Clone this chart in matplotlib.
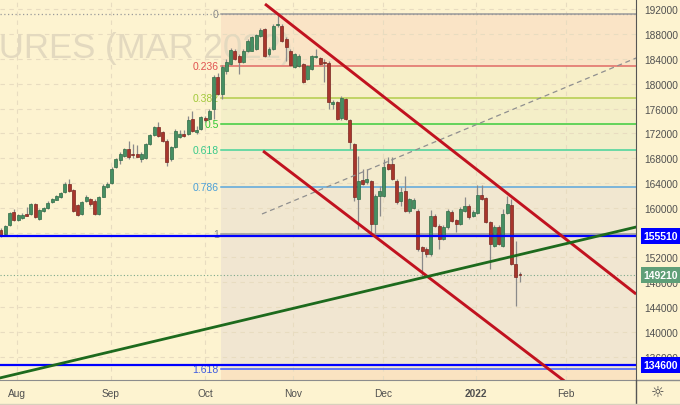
import matplotlib.pyplot as plt
import matplotlib.transforms as mtransforms
from matplotlib.lines import Line2D

plt.rcParams['font.family'] = ['Liberation Sans', 'DejaVu Sans']

# daily bars, RTS futures (Mar 2022), late Jul 2021 .. Jan 2022
opens = [156420, 155770, 157230, 159370, 158030, 158310, 159000, 159000, 160610, 158190,
         159530, 159920, 160980, 161310, 161690, 162500, 163790, 162870, 160450, 159000,
         161150, 161420, 161150, 159000, 161820, 163400, 164000, 166580, 167710, 168350,
         169480, 168680, 168680, 167870, 168030, 170290, 171740, 172980, 172180, 170820,
         167870, 169760, 171370, 171900, 171900, 174320, 172270, 172710, 174440, 174320,
         175940, 181050, 178360, 182060, 183190, 185340, 184530, 183470, 185340, 185340,
         185610, 187760, 188840, 184810, 185610, 189500, 189370, 187230, 185340, 182660,
         182920, 183190, 180770, 182390, 184320, 184110, 183520, 183350, 176740, 177020,
         174440, 177550, 174210, 170290, 161420, 164480, 164110, 164370, 157390, 161950,
         161950, 167060, 167060, 164370, 161150, 162760, 159440, 159970, 159530, 153630,
         153350, 152550, 158730, 157110, 154970, 156850, 159370, 158030, 157390, 159530,
         160340, 158730, 159160, 162060, 161530, 157710, 153840, 156900, 153840, 159160,
         160450, 150930, 149370]
highs = [156740, 157230, 159320, 159810, 159000, 159160, 160180, 160770, 160850, 159810,
         160130, 161100, 161580, 162140, 162550, 164160, 164650, 163030, 160610, 161100,
         162060, 161580, 161340, 161900, 163760, 164160, 166580, 168110, 168920, 169720,
         170770, 170290, 170130, 169000, 170450, 171900, 173190, 173890, 172390, 171100,
         169970, 172710, 172600, 172600, 174760, 175660, 173190, 174810, 174810, 175940,
         181420, 181740, 183030, 184000, 185770, 185610, 184810, 185610, 187230, 187710,
         188110, 188920, 189080, 185940, 189650, 191260, 189650, 187550, 185610, 184970,
         184810, 183430, 183110, 184640, 185610, 184320, 184000, 183680, 177390, 177230,
         178030, 177710, 174400, 170450, 168400, 166260, 166260, 164560, 162230, 163560,
         167870, 168150, 168190, 164650, 163350, 165180, 161580, 161500, 159810, 153840,
         153600, 159650, 159000, 157390, 157150, 159810, 159650, 158270, 160050, 161740,
         160610, 159650, 163680, 163680, 161740, 157870, 157230, 157150, 159810, 161900,
         161420, 154650, 149690]
lows = [155290, 155610, 157060, 157920, 157920, 158190, 158680, 158840, 158350, 158030,
        159400, 159810, 160850, 161180, 161580, 162390, 162550, 159320, 158680, 158840,
        160940, 160290, 158840, 158840, 161690, 163270, 163840, 166420, 167060, 168190,
        167870, 167980, 168190, 167390, 167870, 170130, 171580, 171420, 170690, 166790,
        167600, 169640, 171180, 171370, 171740, 172230, 171900, 172550, 173840, 174160,
        174320, 178190, 177550, 181580, 183030, 183840, 181580, 183350, 185130, 185210,
        185450, 187550, 184320, 184530, 185450, 189130, 186740, 183680, 182870, 182550,
        182710, 180130, 180610, 182220, 184160, 183030, 180290, 175940, 175940, 174160,
        174240, 174160, 169480, 161150, 156580, 163680, 163840, 156100, 155770, 158730,
        161740, 166100, 164480, 160690, 160340, 159320, 159240, 159810, 153030, 149000,
        152060, 152220, 156900, 153350, 154810, 156660, 157710, 156100, 157230, 159320,
        158270, 158520, 159000, 161260, 157470, 150130, 153680, 154000, 153680, 159000,
        150770, 144210, 147980]
closes = [155610, 157020, 159110, 158080, 158840, 158840, 158730, 160560, 158470, 159650,
          159970, 160820, 161420, 161850, 162390, 163890, 162710, 159530, 158890, 160890,
          161690, 160610, 159000, 161690, 163560, 163840, 166260, 167870, 168680, 169480,
          168190, 168520, 168270, 168680, 170290, 171740, 172980, 171580, 170820, 167340,
          169760, 172440, 171900, 171530, 174160, 172440, 172600, 174600, 174160, 175660,
          181100, 178360, 182710, 183520, 185500, 184000, 183470, 185340, 186950, 187500,
          187870, 188680, 184530, 185610, 189370, 189650, 186950, 185940, 183030, 184810,
          184530, 180340, 182920, 184440, 184480, 183190, 183430, 177020, 177020, 174320,
          177660, 174320, 170560, 161690, 164370, 163840, 164650, 157390, 161950, 162760,
          166530, 166260, 164650, 160890, 162500, 159530, 161420, 161260, 153350, 153080,
          152550, 158730, 157110, 154970, 156900, 159530, 157920, 157390, 159810, 160340,
          158470, 159370, 162060, 161420, 157660, 154160, 156900, 154160, 159000, 160610,
          150930, 148890, 149210]

month_pos = [3.76, 25.86, 47.95, 68.6, 89.8, 111.7, 132.8]
month_lbl = ['Aug', 'Sep', 'Oct', 'Nov', 'Dec', '2022', 'Feb']

fib_hi = 191260
fib_lo = 155850
fib_start = 51.7
fib_levels = [0, 0.236, 0.382, 0.5, 0.618, 0.786, 1, 1.618]
fib_line_col = ['#9a9a9a', '#e06a66', '#b3cc4a', '#3ccc3c', '#45d39a', '#5aa6dc', '#9a9a9a', '#3d5cff']
fib_text_col = ['#8a8a8a', '#e0524f', '#a2c93a', '#2fc92f', '#38c98a', '#4a9fd8', '#8a8a8a', '#3d5ae0']
fib_fill_col = ['#fae4c6', '#f7efc8', '#f4efc8', '#f2eeca', '#f4ebcd', '#f1e7d0', '#f1e6d1', '#fae3c1']

blue_levels = [155510, 134600]
last_price = 149210

# drawn lines: bar index / price
upper_x, upper_p = [62.06, 149.3], [192870, 146090]
lower_x, lower_p = [61.6, 134.9], [169160, 130770]
supp_x, supp_p = [-0.3, 149.3], [132550, 156900]
dash_x, dash_p = [61.35, 149.3], [159000, 184160]

xmin, xmax = -0.235, 149.27
ymin, ymax = 132226, 193677
bg = '#fdf3d0'

fig = plt.figure(figsize=(6.8, 4.06), dpi=100, facecolor=bg)
ax = fig.add_axes([0, 25 / 406, 636 / 680, 381 / 406], facecolor=bg)
ax.set_xlim(xmin, xmax)
ax.set_ylim(ymin, ymax)

# fib zones
prices = [fib_hi - l * (fib_hi - fib_lo) for l in fib_levels]
for k in range(len(prices) - 1):
    ax.fill_between([fib_start, xmax], prices[k + 1], prices[k], color=fib_fill_col[k], lw=0, zorder=0.2)
ax.fill_between([fib_start, xmax], ymin, prices[-1], color=fib_fill_col[-1], lw=0, zorder=0.2)

ax.axhline(fib_hi, color='#9a9a9a', lw=0.9, ls=(0, (1, 2)), zorder=1)
for p, lc, tc, l in zip(prices, fib_line_col, fib_text_col, fib_levels):
    ax.plot([fib_start, xmax], [p, p], color=lc, lw=1.1, zorder=1.2)
    ax.text(fib_start - 0.5, p, f'{l:g}', color=tc, fontsize=7.5, ha='right', va='center', zorder=1.2)

# watermark
ax.text(293 / 680, 1 - 58 / 406, 'RTS FUTURES (MAR 2022)', transform=fig.transFigure,
        fontsize=25, color='#e3d9bf', ha='right', va='baseline', zorder=0.6)

# grid
ax.set_axisbelow(True)
ax.grid(True, color='#e8dcc0', ls=(0, (4, 4)), lw=0.8)

# candles
idx = list(range(len(closes)))
ax.vlines(idx, lows, highs, color='#8a8a8a', lw=0.9, zorder=3)
up = [c >= o for o, c in zip(opens, closes)]
bottoms = [min(o, c) for o, c in zip(opens, closes)]
heights = [max(abs(c - o), 120) for o, c in zip(opens, closes)]
ax.bar(idx, heights, bottom=bottoms, width=0.7,
       color=['#468f62' if u else '#a8362c' for u in up],
       edgecolor=['#2f6b47' if u else '#7a2620' for u in up], lw=0.5, zorder=3.2)

# horizontal levels and trend lines
for p in blue_levels:
    ax.axhline(p, color='#0000ff', lw=1.6, zorder=4)
ax.axhline(last_price, color='#7aa88a', lw=0.8, ls=(0, (1, 2)), zorder=2)
ax.plot(upper_x, upper_p, color='#c1121f', lw=2.1, zorder=5, solid_capstyle='butt')
ax.plot(lower_x, lower_p, color='#c1121f', lw=2.1, zorder=5, solid_capstyle='butt')
ax.plot(supp_x, supp_p, color='#1d6a1d', lw=2.0, zorder=5)
ax.plot(dash_x, dash_p, color='#8f8f8f', lw=0.9, ls=(0, (4, 3)), zorder=4.5)

# axes
ax.yaxis.tick_right()
ax.set_yticks(range(136000, 192001, 4000))
ax.set_xticks(month_pos)
ax.set_xticklabels(month_lbl)
for t in ax.get_xticklabels():
    if t.get_text() == '2022':
        t.set_fontweight('bold')
ax.tick_params(axis='y', length=0, pad=6, labelsize=7.3, labelcolor='#505050')
ax.tick_params(axis='x', length=0, pad=6, labelsize=7.3, labelcolor='#505050')
for s in ['top', 'left']:
    ax.spines[s].set_visible(False)
ax.spines['right'].set_color('#555555')
ax.spines['bottom'].set_color('#8c8c8c')

# price tags on the scale
tr = mtransforms.blended_transform_factory(ax.transAxes, ax.transData)
for p, fc in [(blue_levels[0], '#0000ff'), (last_price, '#5f9f78'), (blue_levels[1], '#0000ff')]:
    ax.text(1.012, p, str(p), transform=tr, ha='left', va='center', color='white', fontsize=7.5,
            fontweight='bold', bbox=dict(boxstyle='square,pad=0.28', fc=fc, ec='none'),
            clip_on=False, zorder=10)

fig.add_artist(Line2D([636 / 680, 1], [25 / 406, 25 / 406], color='#8c8c8c', lw=1))
fig.add_artist(Line2D([636 / 680, 636 / 680], [0, 25 / 406], color='#555555', lw=1))
fig.add_artist(Line2D([0, 1], [1.5 / 406, 1.5 / 406], color='#d8d0bc', lw=1))
fig.text(658 / 680, 1 - 393 / 406, '\u263c', ha='center', va='center', fontsize=11,
         color='#444444', family='DejaVu Sans')

fig.savefig('out.png', dpi=100, facecolor=bg)
